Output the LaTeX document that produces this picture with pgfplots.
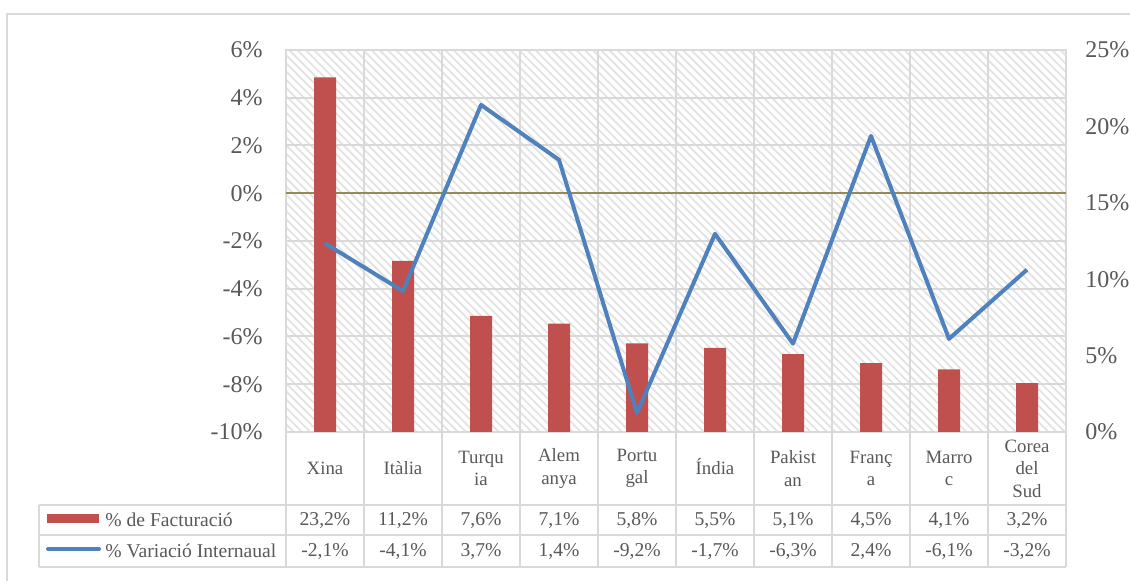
\documentclass[border=0pt]{standalone}
\usepackage{pgfplots}
\pgfplotsset{compat=1.18}
\usepackage{fontspec}
\setmainfont{Liberation Serif}
\usetikzlibrary{patterns.meta}
\definecolor{txt}{HTML}{595959}
\definecolor{gridc}{HTML}{D9D9D9}
\definecolor{barc}{HTML}{C0504D}
\definecolor{linec}{HTML}{4F81BD}
\definecolor{zeroc}{HTML}{948A54}
\begin{document}
\begin{tikzpicture}
\begin{scope}[x=0.5pt,y=-0.5pt]
\path[use as bounding box, fill=white] (0,0) rectangle (1130,581);
\draw[gridc, line width=1pt] (7,581) -- (7,14) -- (1130,14);
\end{scope}
% background axis: hatch, grids, left ticks
\begin{axis}[at={(143pt,-216pt)}, anchor=south west, width=390pt, height=191pt, scale only axis,
  xmin=0, xmax=10, ymin=-10, ymax=6,
  xtick={0,1,...,10}, xticklabels={}, xmajorgrids,
  ytick={-10,-8,...,6}, yticklabels={-10\%,-8\%,-6\%,-4\%,-2\%,0\%,2\%,4\%,6\%}, ymajorgrids,
  major tick length=0pt,
  grid style={draw=gridc, line width=1pt},
  axis line style={draw=gridc, line width=1pt},
  axis background/.style={pattern={Lines[angle=-45,distance=2.9pt,line width=0.9pt]}, pattern color=black!11},
  yticklabel style={font=\fontsize{12pt}{14pt}\selectfont, text=txt, inner sep=0pt, anchor=east, xshift=-11.5pt},
  extra y ticks={0}, extra y tick labels={},
  extra y tick style={grid style={draw=zeroc, line width=1pt}},
]
\end{axis}
% bars, right axis
\begin{axis}[at={(143pt,-216pt)}, anchor=south west, width=390pt, height=191pt, scale only axis,
  xmin=0, xmax=10, ymin=0, ymax=25,
  xtick=\empty,
  ytick={0,5,...,25}, yticklabels={0\%,5\%,10\%,15\%,20\%,25\%},
  axis y line*=right, axis x line=none, y axis line style={draw=none},
  major tick length=0pt,
  yticklabel style={font=\fontsize{12pt}{14pt}\selectfont, text=txt, inner sep=0pt, anchor=west, xshift=9.5pt},
  ybar, bar width=11pt,
]
\addplot[fill=barc, draw=none] coordinates {(0.5,23.2) (1.5,11.2) (2.5,7.6) (3.5,7.1) (4.5,5.8) (5.5,5.5) (6.5,5.1) (7.5,4.5) (8.5,4.1) (9.5,3.2)};
\end{axis}
% line, left axis scale
\begin{axis}[at={(143pt,-216pt)}, anchor=south west, width=390pt, height=191pt, scale only axis,
  xmin=0, xmax=10, ymin=-10, ymax=6, hide axis]
\addplot[linec, line width=2pt, line join=round, no marks] coordinates {(0.5,-2.1) (1.5,-4.1) (2.5,3.7) (3.5,1.4) (4.5,-9.2) (5.5,-1.7) (6.5,-6.3) (7.5,2.4) (8.5,-6.1) (9.5,-3.2)};
\end{axis}
% data table
\begin{scope}[x=0.5pt,y=-0.5pt]
\foreach \k in {0,...,10} { \draw[gridc, line width=1pt] ({286+78*\k},432) -- ({286+78*\k},567); }
\draw[gridc, line width=1pt] (39,505) -- (1066,505);
\draw[gridc, line width=1pt] (39,535) -- (1066,535);
\draw[gridc, line width=1pt] (39,567) -- (1066,567);
\draw[gridc, line width=1pt] (39,505) -- (39,567);
\tikzset{cat/.style={text=txt, align=center, font=\fontsize{9.4pt}{11.2pt}\selectfont, inner sep=0pt},
         val/.style={text=txt, font=\fontsize{9.8pt}{11pt}\selectfont, inner sep=0pt}}
\foreach \n [count=\i from 0] in {Xina,Itàlia,Turqu\\ia,Alem\\anya,Portu\\gal,\smash{Í}ndia,Pakist\\an,Franç\\a,Marro\\c,Corea\\del\\Sud}
  { \node[cat] at ({325+78*\i},468.5) {\n}; }
\foreach \v [count=\i from 0] in {{23,2\%},{11,2\%},{7,6\%},{7,1\%},{5,8\%},{5,5\%},{5,1\%},{4,5\%},{4,1\%},{3,2\%}}
  { \node[val] at ({325+78*\i},520) {\v}; }
\foreach \v [count=\i from 0] in {{-2,1\%},{-4,1\%},{3,7\%},{1,4\%},{-9,2\%},{-1,7\%},{-6,3\%},{2,4\%},{-6,1\%},{-3,2\%}}
  { \node[val] at ({325+78*\i},551) {\v}; }
\fill[barc] (47,514) rectangle (99,523);
\draw[linec, line width=2pt, line cap=round] (48,549) -- (99,549);
\node[val, anchor=west] at (105,520) {\% de Facturació};
\node[val, anchor=west] at (105,551) {\% Variació Internaual};
\end{scope}
\end{tikzpicture}
\end{document}
